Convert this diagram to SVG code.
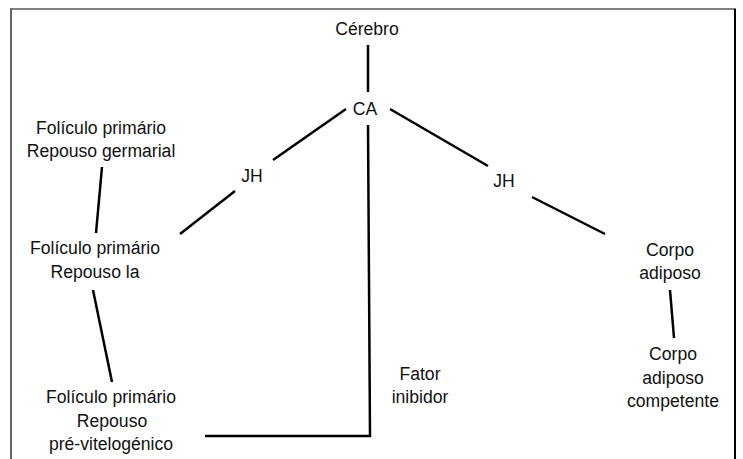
<svg xmlns="http://www.w3.org/2000/svg" width="743" height="459" viewBox="0 0 743 459">
<style>
text{font-family:"Liberation Sans",Arial,sans-serif;font-size:17.6px;fill:#111;text-anchor:middle}
.c{stroke:#000;stroke-width:2.5;fill:none;stroke-linecap:butt}
</style>
<rect width="743" height="459" fill="#fff"/>
<g id="frame">
<line x1="11" y1="9" x2="736" y2="9" stroke="#808080" stroke-width="2"/>
<line x1="11" y1="8" x2="11" y2="459" stroke="#666" stroke-width="2"/>
<line x1="735" y1="9" x2="735" y2="459" stroke="#000" stroke-width="2"/>
</g>
<g id="connectors">
<line class="c" x1="368" y1="45" x2="368" y2="92"/>
<line class="c" x1="346" y1="109" x2="273" y2="160"/>
<line class="c" x1="235" y1="191" x2="180" y2="234"/>
<line class="c" x1="390" y1="109" x2="488" y2="166"/>
<line class="c" x1="532" y1="197" x2="605" y2="234"/>
<line class="c" x1="670" y1="290" x2="674" y2="338"/>
<line class="c" x1="102" y1="167" x2="96" y2="233"/>
<line class="c" x1="93" y1="290" x2="112" y2="382"/>
<path class="c" d="M368 125 L370 436 L205 436"/>
</g>
<g id="cerebro"><text x="367" y="35">Cérebro</text></g>
<g id="ca"><text x="365" y="115">CA</text></g>
<g id="jh-left"><text x="252" y="182">JH</text></g>
<g id="jh-right"><text x="504" y="187">JH</text></g>
<g id="foliculo-germarial"><text x="101" y="134">Folículo primário</text><text x="101" y="157">Repouso germarial</text></g>
<g id="foliculo-la"><text x="95" y="254">Folículo primário</text><text x="95" y="278">Repouso la</text></g>
<g id="foliculo-previtelogenico"><text x="111" y="403">Folículo primário</text><text x="112" y="427">Repouso</text><text x="111" y="450">pré-vitelogénico</text></g>
<g id="fator-inibidor"><text x="420" y="380">Fator</text><text x="420" y="403">inibidor</text></g>
<g id="corpo-adiposo"><text x="670" y="256">Corpo</text><text x="670" y="279">adiposo</text></g>
<g id="corpo-adiposo-competente"><text x="673" y="360">Corpo</text><text x="673" y="384">adiposo</text><text x="673" y="407">competente</text></g>
</svg>
